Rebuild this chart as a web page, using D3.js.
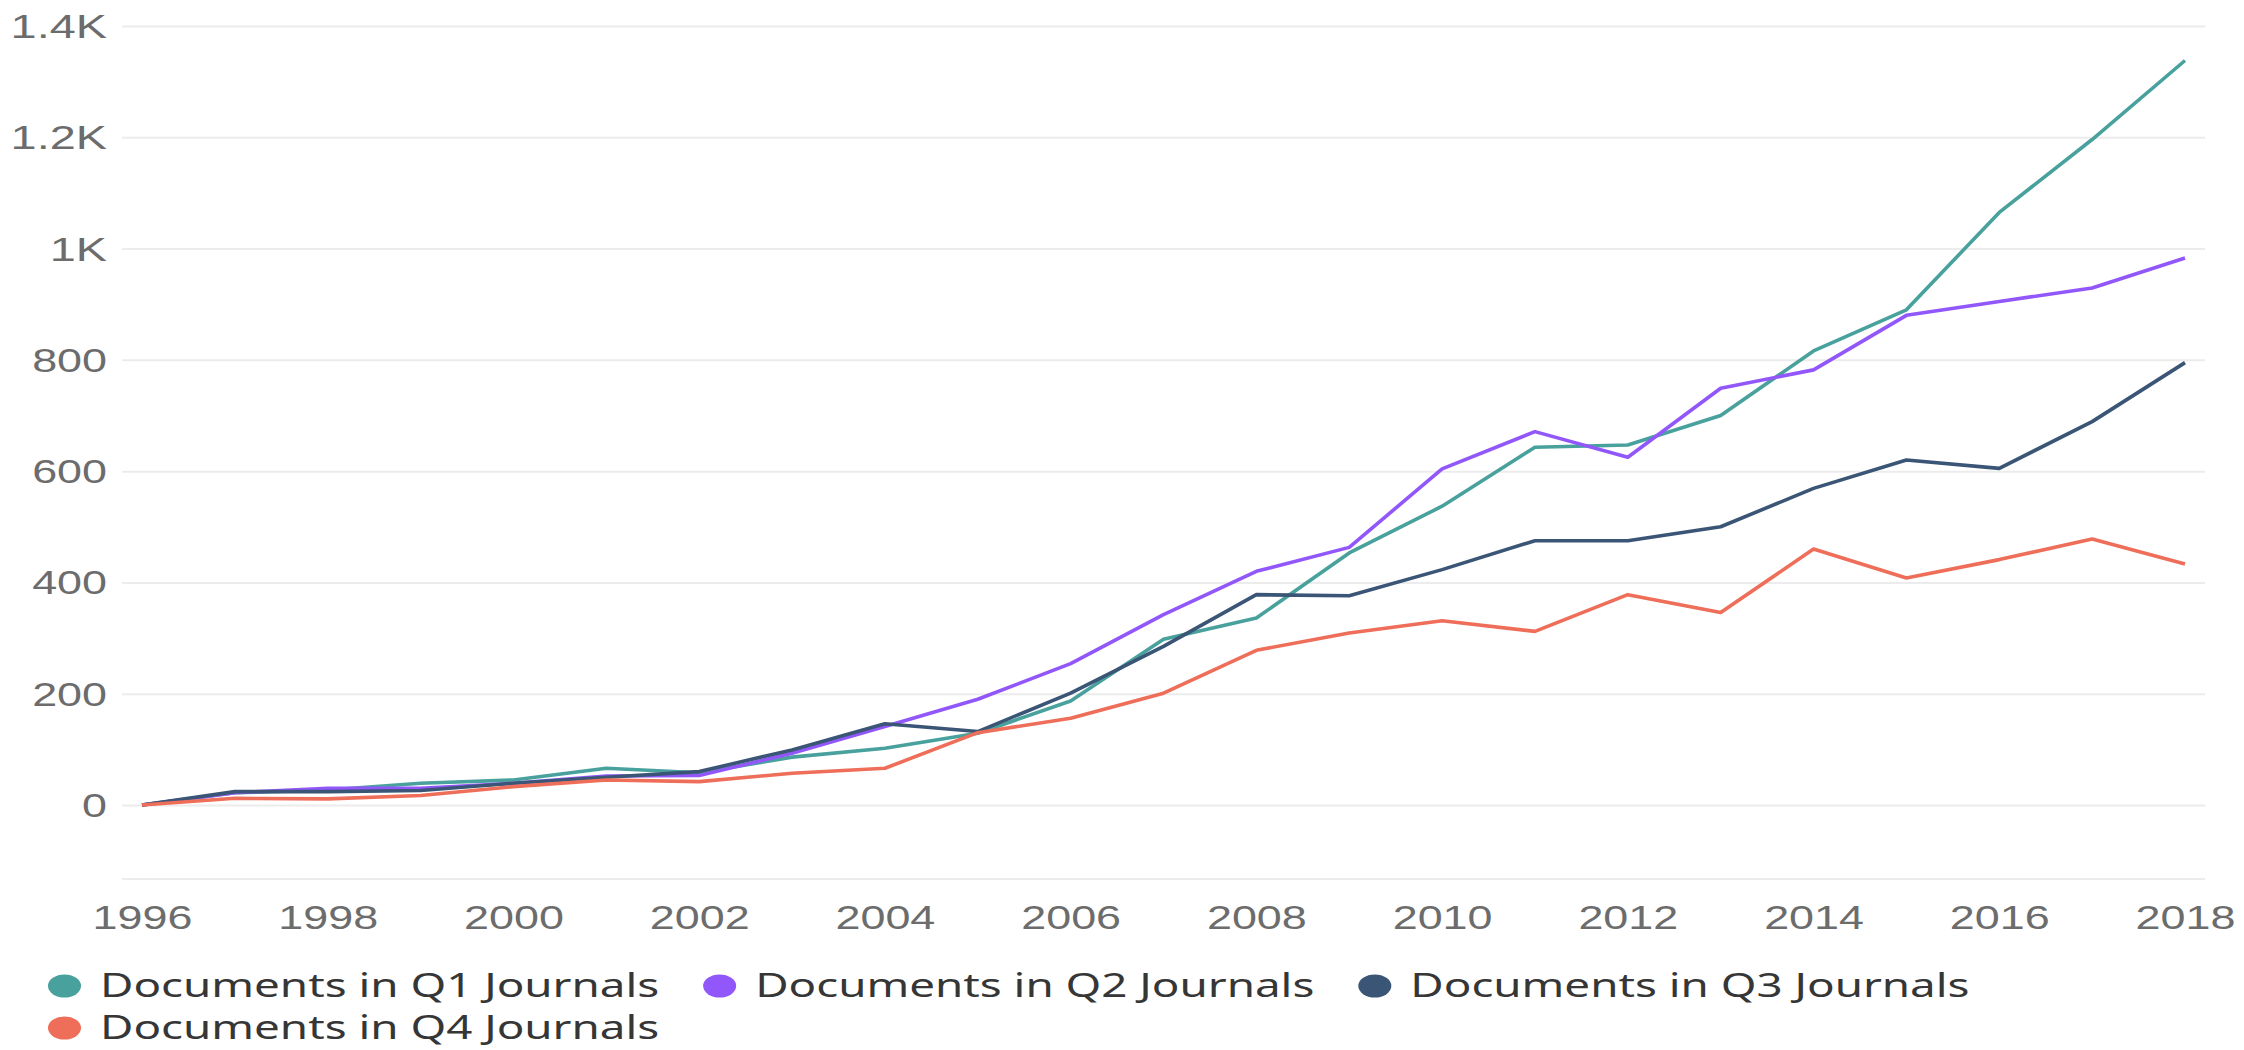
<!DOCTYPE html>
<html>
<head>
<meta charset="utf-8">
<script src="https://cdn.jsdelivr.net/npm/d3@7"></script>
<style>
  html, body { margin: 0; padding: 0; background: #fff; }
  svg { display: block; font-family: "Noto Sans", "Open Sans", sans-serif; }
</style>
</head>
<body>
<svg id="chart" width="2244" height="1050"></svg>
<script>
(function () {
'use strict';

var years = [1996, 1997, 1998, 1999, 2000, 2001, 2002, 2003, 2004, 2005, 2006, 2007,
             2008, 2009, 2010, 2011, 2012, 2013, 2014, 2015, 2016, 2017, 2018];

var q1Docs = [0, 22, 27, 39, 45, 66, 58, 86, 102, 129, 187, 298, 336, 453, 537, 643, 647, 700, 816, 890, 1065, 1196, 1338];
var q2Docs = [0, 22, 30, 30, 39, 52, 53, 93, 141, 190, 254, 342, 420, 463, 604, 671, 625, 749, 782, 880, 905, 929, 983];
var q3Docs = [0, 24, 24, 26, 39, 50, 60, 99, 146, 132, 201, 285, 378, 376, 423, 475, 475, 500, 569, 620, 605, 689, 795];
var q4Docs = [0, 12, 11, 17, 33, 45, 42, 57, 66, 130, 156, 201, 278, 309, 331, 312, 378, 346, 460, 408, 441, 478, 433];

var seriesNames = ["Documents in Q1 Journals", "Documents in Q2 Journals",
                   "Documents in Q3 Journals", "Documents in Q4 Journals"];
var seriesColors = ["#48a19c", "#9157fb", "#3a5575", "#ee6e59"];
var seriesValues = [q1Docs, q2Docs, q3Docs, q4Docs];

var yTicks = [0, 200, 400, 600, 800, 1000, 1200, 1400];
var xTicks = [1996, 1998, 2000, 2002, 2004, 2006, 2008, 2010, 2012, 2014, 2016, 2018];

// the source picture is stretched sideways, so text gets a horizontal scale
var TICK_SX = 1.36;
var LEGEND_SX = 1.43;

var svg = d3.select("#chart");
var gridLeft = 122;
var gridRight = 2205;

var x = d3.scaleLinear().domain([1996, 2018]).range([142, 2185]);
var y = d3.scaleLinear().domain([-133, 1400]).range([879, 26]);

function formatK(d) {
    return d >= 1000 ? (d / 1000) + "K" : String(d);
}

// gridlines + y labels
var yAxis = d3.axisLeft(y)
    .tickValues(yTicks)
    .tickSize(-(gridRight - gridLeft))
    .tickPadding(0)
    .tickFormat(formatK);

var yg = svg.append("g")
    .attr("transform", "translate(" + gridLeft + ",0)")
    .call(yAxis);
yg.select(".domain").remove();
yg.selectAll(".tick line").attr("stroke", "#ececec").attr("stroke-width", 2);
yg.selectAll(".tick text")
    .attr("x", 0)
    .attr("dy", "0.35em")
    .attr("transform", function (d) {
        var sx = d >= 1000 ? 1.42 : TICK_SX; // "K" labels run a bit wider in the source
        return "translate(-15,0) scale(" + sx + ",1)";
    })
    .attr("fill", "#6c6c6c")
    .style("font-size", "33px");

// bottom axis line + year labels
var xAxis = d3.axisBottom(x)
    .tickValues(xTicks)
    .tickSize(0)
    .tickPadding(0)
    .tickFormat(d3.format("d"));

var xg = svg.append("g")
    .attr("transform", "translate(0," + y(-133) + ")")
    .call(xAxis);
xg.select(".domain").remove();
svg.append("line")
    .attr("x1", gridLeft).attr("x2", gridRight)
    .attr("y1", y(-133)).attr("y2", y(-133))
    .attr("stroke", "#ececec").attr("stroke-width", 2);
xg.selectAll(".tick text")
    .attr("y", 0)
    .attr("dy", 0)
    .attr("transform", "translate(0,50) scale(" + TICK_SX + ",1)")
    .attr("fill", "#6c6c6c")
    .style("font-size", "33px");

// lines
var line = d3.line()
    .x(function (d, i) { return x(years[i]); })
    .y(function (d) { return y(d); });

svg.append("g")
    .selectAll("path")
    .data(seriesValues)
    .enter().append("path")
    .attr("d", line)
    .attr("fill", "none")
    .attr("stroke", function (d, i) { return seriesColors[i]; })
    .attr("stroke-width", 3.6)
    .attr("stroke-linejoin", "round");

// legend, wraps like a flow layout
var legend = svg.append("g");
var lx = 48;
var ly = 986;
var rowStep = 42;
var maxRight = 2210;

seriesNames.forEach(function (name, i) {
    var item = legend.append("g");
    item.append("ellipse")
        .attr("cx", 16.5).attr("cy", 0)
        .attr("rx", 16.5).attr("ry", 11.5)
        .attr("fill", seriesColors[i]);
    var t = item.append("text")
        .attr("transform", "translate(52,0) scale(" + LEGEND_SX + ",1)")
        .attr("dy", "0.35em")
        .attr("fill", "#363636")
        .style("font-size", "32px")
        .text(name);
    var w = 52 + t.node().getComputedTextLength() * LEGEND_SX;
    if (lx + w > maxRight) {
        lx = 48;
        ly += rowStep;
    }
    item.attr("transform", "translate(" + lx + "," + ly + ")");
    lx += w + 44;
});
})();
</script>
</body>
</html>
